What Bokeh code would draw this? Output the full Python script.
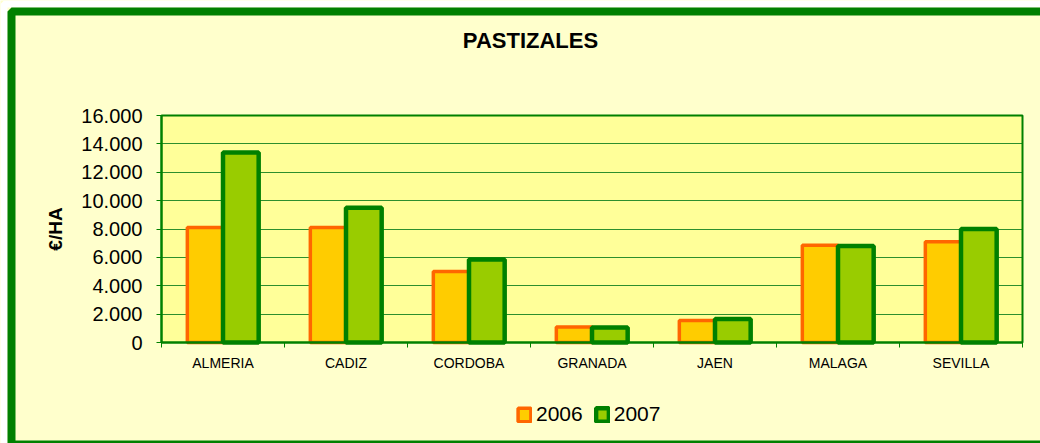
import numpy as np
from bokeh.plotting import figure
from bokeh.models import (Range1d, FixedTicker, Legend, LegendItem, Label,
                          BoxAnnotation)
from bokeh.embed import file_html
from bokeh.resources import INLINE

categories = ["ALMERIA", "CADIZ", "CORDOBA", "GRANADA", "JAEN", "MALAGA", "SEVILLA"]
v2006 = [8100, 8100, 5000, 1100, 1550, 6850, 7100]
v2007 = [13400, 9500, 5850, 1050, 1650, 6800, 8000]
y_ticks = [0, 2000, 4000, 6000, 8000, 10000, 12000, 14000, 16000]
series_names = ["2006", "2007"]
title_text = "PASTIZALES"
y_label = "€/HA"

FONT = "Liberation Sans"
GREEN = "#008000"
W, H = 1040, 443

# layout of the plot area inside the canvas (pixels)
PL, PR, PT, PB = 161, 1022, 115, 342
ncat = len(categories)
ymax = y_ticks[-1]
xpx = (PR - PL) / ncat
ypx = (PB - PT) / ymax
x_range = Range1d(-PL / xpx, ncat + (W - PR) / xpx)
y_range = Range1d(-(H - PB) / ypx, ymax + PT / ypx)

p = figure(width=W, height=H, output_backend="svg", toolbar_location=None,
           x_range=x_range, y_range=y_range,
           min_border_left=0, min_border_right=0, min_border_top=0,
           min_border_bottom=0)
p.title.visible = False
p.background_fill_color = "#FFFFCC"
p.border_fill_color = "#FFFFCC"
p.outline_line_color = None

# plot area
p.add_layout(BoxAnnotation(left=0, right=ncat, bottom=0, top=ymax,
                           fill_color="#FFFF99", fill_alpha=1,
                           line_color=None, level="image"))

idx = np.arange(ncat) + 0.5
off = 0.145
bw = 0.29
r1 = p.vbar(x=idx - off, top=v2006, width=bw, fill_color="#FFCC00",
            line_color="#FF6600", line_width=3.5)
r2 = p.vbar(x=idx + off, top=v2007, width=bw, fill_color="#99CC00",
            line_color=GREEN, line_width=4.5)

# plot area outline
p.add_layout(BoxAnnotation(left=0, right=ncat, bottom=0, top=ymax,
                           fill_alpha=0, line_color=GREEN, line_alpha=1,
                           line_width=2, level="overlay"))

# axes
xa = p.xaxis[0]
xa.fixed_location = 0
xa.bounds = (0, ncat)
xa.ticker = FixedTicker(ticks=list(idx), minor_ticks=list(range(ncat + 1)))
xa.major_label_overrides = {float(i): c for i, c in zip(idx, categories)}
xa.major_tick_line_color = None
xa.major_tick_out = 0
xa.major_tick_in = 0
xa.minor_tick_line_color = GREEN
xa.minor_tick_out = 5
xa.minor_tick_in = 0
xa.axis_line_color = GREEN
xa.axis_line_width = 2
xa.major_label_text_font = FONT
xa.major_label_text_font_size = "14px"
xa.major_label_text_color = "#000000"
xa.major_label_standoff = 7

ya = p.yaxis[0]
ya.fixed_location = 0
ya.bounds = (0, ymax)
ya.ticker = FixedTicker(ticks=y_ticks)
ya.major_label_overrides = {t: f"{t:,}".replace(",", ".") for t in y_ticks}
ya.major_tick_line_color = GREEN
ya.major_tick_out = 5
ya.major_tick_in = 0
ya.minor_tick_line_color = None
ya.axis_line_color = GREEN
ya.axis_line_width = 2
ya.major_label_text_font = FONT
ya.major_label_text_font_size = "20px"
ya.major_label_text_color = "#000000"
ya.major_label_standoff = 14
ya.axis_label = y_label
ya.axis_label_text_font = FONT
ya.axis_label_text_font_size = "19px"
ya.axis_label_text_font_style = "bold"
ya.axis_label_text_color = "#000000"
ya.axis_label_standoff = 12

p.xgrid.grid_line_color = None
yg = p.ygrid[0]
yg.bounds = (0, ymax)
if "cross_bounds" in yg.properties():
    yg.cross_bounds = (0, ncat)
    yg.grid_line_color = "#2D8F2D"
    yg.grid_line_width = 1
else:
    yg.grid_line_color = None
    p.segment(x0=0, x1=ncat, y0=y_ticks, y1=y_ticks, line_color="#2D8F2D",
              line_width=1, level="underlay")

# title
p.add_layout(Label(x=530, y=H - 40, x_units="screen", y_units="screen",
                   text=title_text, text_font=FONT, text_font_size="22px",
                   text_font_style="bold", text_align="center",
                   text_baseline="middle", text_color="#000000"))

# legend
legend = Legend(items=[LegendItem(label=series_names[0], renderers=[r1]),
                       LegendItem(label=series_names[1], renderers=[r2])],
                orientation="horizontal", location=(516, 17),
                label_text_font=FONT, label_text_font_size="21px",
                label_text_color="#000000", glyph_width=16, glyph_height=17,
                label_standoff=4, spacing=11, padding=0, margin=0,
                border_line_color=None, background_fill_alpha=0)
p.add_layout(legend, "center")

# outer white margin and green chart border
p.add_layout(BoxAnnotation(left=3.5, right=W + 30, top=H - 3.5, bottom=-30,
                           left_units="screen", right_units="screen",
                           top_units="screen", bottom_units="screen",
                           fill_alpha=0, line_color="#FFFFFF", line_alpha=1,
                           line_width=7, level="overlay"))
p.add_layout(BoxAnnotation(left=11, right=W + 30, top=H - 11, bottom=-1,
                           left_units="screen", right_units="screen",
                           top_units="screen", bottom_units="screen",
                           fill_alpha=0, line_color=GREEN, line_alpha=1,
                           line_width=8, level="overlay"))

open("out.html", "w").write(file_html(p, INLINE))
